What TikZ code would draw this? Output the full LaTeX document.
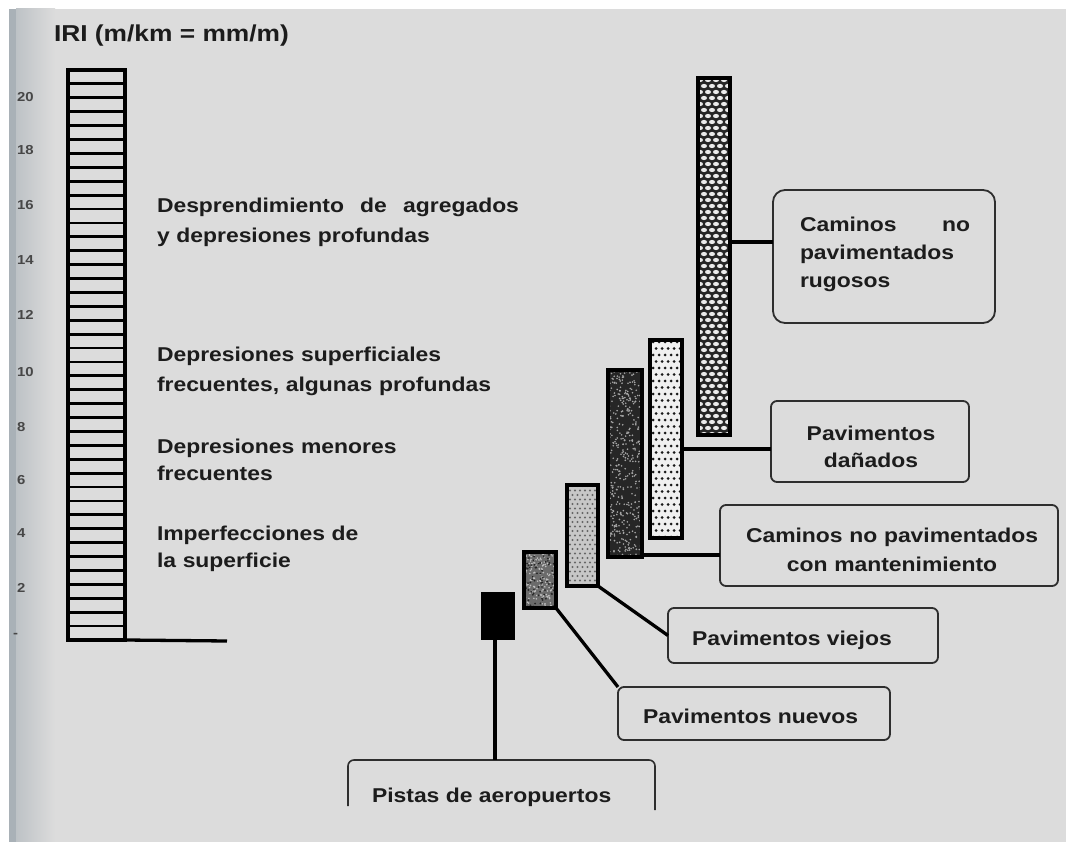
\documentclass[tikz,border=0pt]{standalone}
\usepackage{fontspec}
\setmainfont{Liberation Sans}[FakeStretch=1.145]
\usetikzlibrary{calc}
\definecolor{bg}{HTML}{DCDCDC}
\definecolor{ink}{HTML}{1C1C1C}
\definecolor{edgec}{HTML}{A9B1B7}
\definecolor{boxc}{HTML}{2E2E2E}
\begin{document}
\begin{tikzpicture}[x=1pt,y=-1pt,
  lbl/.style={font=\bfseries\fontsize{20}{28}\selectfont, text=ink, inner sep=0pt, outer sep=0pt},
  scalelbl/.style={font=\bfseries\fontsize{13}{14}\selectfont, text=black!72, inner sep=0pt, anchor=west},
  bar/.style={draw=black, line width=3.4pt, inner sep=0pt, outer sep=0pt, anchor=north west},
  rulerbox/.style={draw=black, line width=3.4pt, inner sep=0pt, outer sep=0pt, anchor=north west},
  stripe/.style={black, line width=2.8pt},
  conn/.style={black, line width=3.3pt},
  tagbox/.style={draw=boxc, line width=1.8pt, rounded corners=6pt, inner sep=0pt, outer sep=0pt, anchor=north west},
]
\useasboundingbox (0,0) rectangle (1066,842);
% page background (scan)
\fill[white] (0,0) rectangle (1066,842);
\fill[bg] (9,9) rectangle (1066,842);
\fill[edgec] (9,9) rectangle (16,842);
\shade[left color=edgec!60!bg, right color=bg] (16,9) rectangle (55,842);

% title
\node[lbl, font=\bfseries\fontsize{23}{28}\selectfont, anchor=base west] (title) at (54,42) {IRI (m/km = mm/m)};

% scale labels
\foreach \v/\yy in {20/97,18/150,16/205,14/260,12/315,10/372,8/427,6/480,4/533,2/588}
  \node[scalelbl] (s\v) at (17,\yy) {\v};
\node[scalelbl] (s0) at (13,635) {-};

% ruler
\node[rulerbox, minimum width=57pt, minimum height=570pt] (ruler) at (68,70) {};
\foreach \i in {1,...,40}
  \draw[stripe] ($(ruler.north west)!\i/41!(ruler.south west)$) -- ($(ruler.north east)!\i/41!(ruler.south east)$);
\coordinate (axisend) at (227,641);
\draw[conn] (ruler.south east) -- (axisend);

% descriptions
\node[lbl, anchor=base west, text width=370pt, align=left] (d1) at (157,213)
  {\makebox[362pt][l]{Desprendimiento\hfill de\hfill agregados}\\[2pt] y depresiones profundas};
\node[lbl, anchor=base west, text width=360pt, align=left] (d2) at (157,362)
  {Depresiones superficiales\\[2pt] frecuentes, algunas profundas};
\node[lbl, anchor=base west, text width=360pt, align=left] (d3) at (157,453)
  {Depresiones menores\\[-1pt] frecuentes};
\node[lbl, anchor=base west, text width=360pt, align=left] (d4) at (157,540)
  {Imperfecciones de\\[-1pt] la superficie};

% ---- bar textures ----
% A: airport (solid black)
\fill[black] (483,594) rectangle (513,638);
% N: new pavements (mottled grey)
\begin{scope}
  \clip (524,552) rectangle (556,608);
  \fill[black!58] (524,552) rectangle (556,608);
  \pgfmathsetseed{11}
  \foreach \n in {1,...,160}{
    \pgfmathsetmacro\rx{524+32*rnd}\pgfmathsetmacro\ry{552+56*rnd}
    \fill[black!25] (\rx,\ry) circle (0.9);}
  \foreach \n in {1,...,90}{
    \pgfmathsetmacro\rx{524+32*rnd}\pgfmathsetmacro\ry{552+56*rnd}
    \fill[black!85] (\rx,\ry) circle (1.0);}
\end{scope}
% V: old pavements (fine dots on light grey)
\begin{scope}
  \clip (567,485) rectangle (598,586);
  \fill[black!22] (567,485) rectangle (598,586);
  \foreach \yy [count=\k] in {486,490.5,...,590}{
    \pgfmathsetmacro\o{mod(\k,2)*2.5}
    \foreach \xx in {565,570,...,600}
      \fill[black!60] (\xx+\o,\yy) circle (1.1);}
\end{scope}
% M: unpaved with maintenance (dark mottled)
\begin{scope}
  \clip (608,370) rectangle (642,557);
  \fill[black!85] (608,370) rectangle (642,557);
  \pgfmathsetseed{7}
  \foreach \n in {1,...,420}{
    \pgfmathsetmacro\rx{608+34*rnd}\pgfmathsetmacro\ry{370+187*rnd}
    \fill[black!35] (\rx,\ry) circle (0.9);}
\end{scope}
% D: damaged pavements (black dots on light)
\begin{scope}
  \clip (650,340) rectangle (682,538);
  \fill[black!6] (650,340) rectangle (682,538);
  \foreach \yy [count=\k] in {342,348.5,...,540}{
    \pgfmathsetmacro\o{mod(\k,2)*3}
    \foreach \xx in {650,656,...,686}
      \fill[black!90] (\xx+\o,\yy) circle (1.5);}
\end{scope}
% R: rough unpaved (white ovals on black)
\begin{scope}
  \clip (698,78) rectangle (730,435);
  \fill[black!85] (698,78) rectangle (730,435);
  \foreach \yy [count=\k] in {80,86,...,438}{
    \pgfmathsetmacro\o{mod(\k,2)*4}
    \foreach \xx in {696,704,...,736}
      \fill[black!8] (\xx+\o,\yy) ellipse (3.0 and 2.1);}
\end{scope}

% ---- bars ----
\node[bar, minimum width=30pt, minimum height=44pt]  (barA) at (483,594) {};
\node[bar, minimum width=32pt, minimum height=56pt]  (barN) at (524,552) {};
\node[bar, minimum width=31pt, minimum height=101pt] (barV) at (567,485) {};
\node[bar, minimum width=34pt, minimum height=187pt] (barM) at (608,370) {};
\node[bar, minimum width=32pt, minimum height=198pt] (barD) at (650,340) {};
\node[bar, minimum width=32pt, minimum height=357pt] (barR) at (698,78) {};

% ---- label boxes ----
\node[tagbox, rounded corners=12pt, minimum width=222pt, minimum height=133pt] (boxR) at (773,190) {};
\node[tagbox, minimum width=198pt, minimum height=81pt] (boxD) at (771,401) {};
\node[tagbox, minimum width=338pt, minimum height=81pt] (boxM) at (720,505) {};
\node[tagbox, minimum width=270pt, minimum height=55pt] (boxV) at (668,608) {};
\node[tagbox, minimum width=272pt, minimum height=53pt] (boxN) at (618,687) {};
\coordinate (pistasL) at (348,806);
\coordinate (pistasTop) at (495,760);
\coordinate (pistasR) at (655,810);
\draw[boxc, line width=1.6pt, rounded corners=6pt] (pistasL) |- (pistasR |- pistasTop) -- (pistasR);

% ---- box texts ----
\node[lbl, anchor=base west, text width=175pt, align=left] (tR) at (800,232)
  {\makebox[170pt][l]{Caminos\hfill no}\\ pavimentados\\ rugosos};
\node[lbl, anchor=base, text width=200pt, align=center] (tD) at (871,440)
  {Pavimentos\\[-1pt] dañados};
\node[lbl, anchor=base, text width=330pt, align=center] (tM) at (892,542)
  {Caminos no pavimentados\\[1pt] con mantenimiento};
\node[lbl, anchor=base west] (tV) at (692,645) {Pavimentos viejos};
\node[lbl, anchor=base west] (tN) at (643,723) {Pavimentos nuevos};
\node[lbl, anchor=base west] (tP) at (372,802) {Pistas de aeropuertos};

% ---- connectors ----
\coordinate (yR) at (0,242);
\coordinate (yD) at (0,449);
\coordinate (yM) at (0,555);
\draw[conn] (barR.east |- yR) -- (boxR.west |- yR);
\draw[conn] (barD.east |- yD) -- (boxD.west |- yD);
\draw[conn] (barM.east |- yM) -- (boxM.west |- yM);
\draw[conn] (barV.south east) -- (boxV.west);
\draw[conn] (barN.south east) -- (boxN.north west);
\draw[conn] (pistasTop |- barA.south) -- (pistasTop);
\end{tikzpicture}
\end{document}
